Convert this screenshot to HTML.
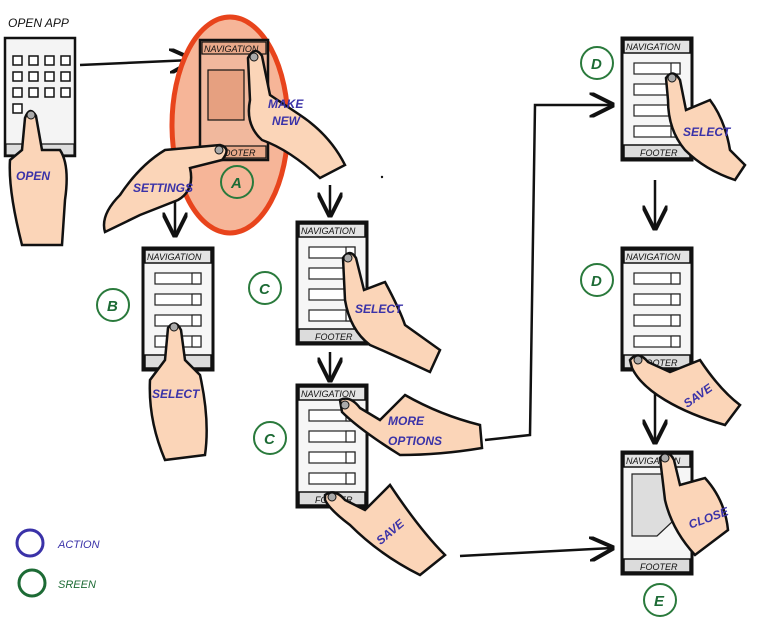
<!DOCTYPE html>
<html><head><meta charset="utf-8"><style>
html,body{margin:0;padding:0;background:#fff;}
svg{display:block}
text{font-family:"Liberation Sans",sans-serif;font-style:italic;}
.nav{font-size:9px;fill:#111}
.lab{font-size:12px;fill:#3a32a8;font-weight:bold}
.cl{font-size:15px;fill:#1d6b35;font-weight:bold}
</style></head><body>
<svg width="773" height="619" viewBox="0 0 773 619" xmlns="http://www.w3.org/2000/svg">
<defs>
<g id="frame">
 <rect x="0" y="0" width="70" height="122" fill="#f6f6f6" stroke="#111" stroke-width="3"/>
 <rect x="2" y="2" width="66" height="13" fill="#e4e4e4" stroke="#111" stroke-width="1.5"/>
 <rect x="2" y="107" width="66" height="13" fill="#dcdcdc" stroke="#111" stroke-width="1.5"/>
</g>
<g id="rows">
 <g fill="#fff" stroke="#222" stroke-width="1.2">
  <rect x="12" y="25" width="46" height="11"/><rect x="49" y="25" width="9" height="11"/>
  <rect x="12" y="46" width="46" height="11"/><rect x="49" y="46" width="9" height="11"/>
  <rect x="12" y="67" width="46" height="11"/><rect x="49" y="67" width="9" height="11"/>
  <rect x="12" y="88" width="46" height="11"/><rect x="49" y="88" width="9" height="11"/>
 </g>
</g>
<marker id="ah" viewBox="0 0 10 10" refX="9" refY="5" markerWidth="10" markerHeight="10" orient="auto"><path d="M0,0 L10,5 L0,10" fill="none" stroke="#111" stroke-width="1.6"/></marker>
</defs>

<!-- arrows -->
<g stroke="#111" stroke-width="2.5" fill="none">
 <path d="M80,65 L192,60" marker-end="url(#ah)"/>
 <path d="M175,200 L175,235" marker-end="url(#ah)"/>
 <path d="M330,185 L330,215" marker-end="url(#ah)"/>
 <path d="M330,352 L330,380" marker-end="url(#ah)"/>
 <path d="M485,440 L530,435 L535,105 L612,105" marker-end="url(#ah)"/>
 <path d="M460,556 L612,548" marker-end="url(#ah)"/>
 <path d="M655,180 L655,228" marker-end="url(#ah)"/>
 <path d="M655,390 L655,442" marker-end="url(#ah)"/>
</g>

<!-- phone 1 open app -->
<text x="8" y="27" style="font-size:12px;fill:#111">OPEN APP</text>
<g transform="translate(5,38)">
 <rect x="0" y="0" width="70" height="118" fill="#f4f4f4" stroke="#111" stroke-width="2.5"/>
 <g fill="#fff" stroke="#111" stroke-width="1.5">
  <rect x="8" y="18" width="9" height="9"/><rect x="24" y="18" width="9" height="9"/><rect x="40" y="18" width="9" height="9"/><rect x="56" y="18" width="9" height="9"/>
  <rect x="8" y="34" width="9" height="9"/><rect x="24" y="34" width="9" height="9"/><rect x="40" y="34" width="9" height="9"/><rect x="56" y="34" width="9" height="9"/>
  <rect x="8" y="50" width="9" height="9"/><rect x="24" y="50" width="9" height="9"/><rect x="40" y="50" width="9" height="9"/><rect x="56" y="50" width="9" height="9"/>
  <rect x="8" y="66" width="9" height="9"/>
 </g>
 <rect x="1" y="106" width="68" height="11" fill="#ddd" stroke="#111" stroke-width="1.2"/>
</g>
<path d="M25,118 Q30,105 36,116 L42,150 L60,150 Q70,165 65,200 L62,245 L22,245 Q8,190 10,160 L22,150 Z" fill="#fbd5b8" stroke="#111" stroke-width="2.5"/>
<circle cx="31" cy="115" r="4" fill="#aaa" stroke="#111"/>
<text x="16" y="180" class="lab">OPEN</text>

<!-- red ellipse A -->
<ellipse cx="230" cy="125" rx="58" ry="108" fill="#f6b598" stroke="#e8441c" stroke-width="5"/>
<g transform="translate(200,40)">
 <rect x="0" y="0" width="68" height="120" fill="#f1b89d" stroke="#111" stroke-width="2.5"/>
 <rect x="2" y="2" width="64" height="12" fill="#e9a98a" stroke="#111" stroke-width="1.2"/>
 <rect x="8" y="30" width="36" height="50" fill="#e6a080" stroke="#111" stroke-width="1.2"/>
 <rect x="2" y="106" width="64" height="12" fill="#e9a98a" stroke="#111" stroke-width="1.2"/>
 <text x="4" y="12" class="nav">NAVIGATION</text>
 <text x="18" y="116" class="nav">FOOTER</text>
</g>
<path d="M248,58 Q255,45 262,56 L270,95 L300,115 Q330,135 345,165 L320,178 Q290,150 262,140 Q245,125 250,100 Z" fill="#fbd5b8" stroke="#111" stroke-width="2.5"/>
<circle cx="254" cy="57" r="4" fill="#aaa" stroke="#111"/>
<text x="268" y="108" class="lab">MAKE</text><text x="272" y="125" class="lab">NEW</text>
<path d="M220,145 Q232,148 222,160 L190,168 Q195,190 178,200 L140,215 L105,232 Q100,215 120,195 Q140,165 165,150 Z" fill="#fbd5b8" stroke="#111" stroke-width="2.5"/>
<circle cx="219" cy="150" r="4" fill="#aaa" stroke="#111"/>
<text x="133" y="192" class="lab">SETTINGS</text>
<circle cx="237" cy="182" r="16" fill="none" stroke="#2a7a3c" stroke-width="2"/><text x="231" y="188" class="cl">A</text>

<!-- phone B -->
<g transform="translate(143,248)"><use href="#frame"/><use href="#rows"/>
 <text x="4" y="12" class="nav">NAVIGATION</text></g>
<path d="M168,328 Q175,318 181,330 L185,360 L200,375 Q210,420 205,455 L165,460 Q148,420 150,380 L165,360 Z" fill="#fbd5b8" stroke="#111" stroke-width="2.5"/>
<circle cx="174" cy="327" r="4" fill="#aaa" stroke="#111"/>
<text x="152" y="398" class="lab">SELECT</text>
<circle cx="113" cy="305" r="16" fill="none" stroke="#2a7a3c" stroke-width="2"/><text x="107" y="311" class="cl">B</text>

<!-- phone C1 -->
<g transform="translate(297,222)"><use href="#frame"/><use href="#rows"/>
 <text x="4" y="12" class="nav">NAVIGATION</text><text x="18" y="118" class="nav">FOOTER</text></g>
<path d="M343,258 Q350,248 356,258 L364,290 L385,282 Q400,310 405,325 L440,350 L430,372 Q400,358 370,345 Q350,330 345,300 Z" fill="#fbd5b8" stroke="#111" stroke-width="2.5"/>
<circle cx="348" cy="258" r="4" fill="#aaa" stroke="#111"/>
<text x="355" y="313" class="lab">SELECT</text>
<circle cx="265" cy="288" r="16" fill="none" stroke="#2a7a3c" stroke-width="2"/><text x="259" y="294" class="cl">C</text>

<!-- phone C2 -->
<g transform="translate(297,385)"><use href="#frame"/><use href="#rows"/>
 <text x="4" y="12" class="nav">NAVIGATION</text><text x="18" y="118" class="nav">FOOTER</text></g>
<path d="M340,400 Q350,395 360,408 L380,420 L405,395 Q440,415 480,425 L482,448 Q440,455 400,455 Q360,430 342,412 Z" fill="#fbd5b8" stroke="#111" stroke-width="2.5"/>
<circle cx="345" cy="405" r="4" fill="#aaa" stroke="#111"/>
<text x="388" y="425" class="lab">MORE</text><text x="388" y="445" class="lab">OPTIONS</text>
<path d="M325,495 Q335,488 345,500 L365,510 L390,485 Q420,530 445,555 L420,575 Q380,555 350,525 Q330,510 325,500 Z" fill="#fbd5b8" stroke="#111" stroke-width="2.5"/>
<circle cx="332" cy="497" r="4" fill="#aaa" stroke="#111"/>
<text x="375" y="540" class="lab" transform="rotate(-40 385 535)">SAVE</text>
<circle cx="270" cy="438" r="16" fill="none" stroke="#2a7a3c" stroke-width="2"/><text x="264" y="444" class="cl">C</text>

<!-- phone D1 -->
<g transform="translate(622,38)"><use href="#frame"/><use href="#rows"/>
 <text x="4" y="12" class="nav">NAVIGATION</text><text x="18" y="118" class="nav">FOOTER</text></g>
<path d="M666,78 Q673,68 680,80 L686,110 L710,100 Q725,120 730,150 L745,165 L735,180 Q705,170 685,150 Q668,130 668,100 Z" fill="#fbd5b8" stroke="#111" stroke-width="2.5"/>
<circle cx="672" cy="78" r="4" fill="#aaa" stroke="#111"/>
<text x="683" y="136" class="lab">SELECT</text>
<circle cx="597" cy="63" r="16" fill="none" stroke="#2a7a3c" stroke-width="2"/><text x="591" y="69" class="cl">D</text>

<!-- phone D2 -->
<g transform="translate(622,248)"><use href="#frame"/><use href="#rows"/>
 <text x="4" y="12" class="nav">NAVIGATION</text><text x="18" y="118" class="nav">FOOTER</text></g>
<path d="M630,360 Q638,350 648,362 L670,372 L700,360 Q720,390 740,405 L725,425 Q690,415 665,400 Q640,385 632,368 Z" fill="#fbd5b8" stroke="#111" stroke-width="2.5"/>
<circle cx="638" cy="360" r="4" fill="#aaa" stroke="#111"/>
<text x="683" y="405" class="lab" transform="rotate(-35 690 400)">SAVE</text>
<circle cx="597" cy="280" r="16" fill="none" stroke="#2a7a3c" stroke-width="2"/><text x="591" y="286" class="cl">D</text>

<!-- phone E -->
<g transform="translate(622,452)"><use href="#frame"/>
 <path d="M10,22 L50,22 L50,70 L35,84 L10,84 Z" fill="#ddd" stroke="#222" stroke-width="1.2"/>
 <text x="4" y="12" class="nav">NAVIGATION</text><text x="18" y="118" class="nav">FOOTER</text></g>
<path d="M660,458 Q668,448 674,460 L680,485 L705,478 Q725,500 728,530 L695,555 Q672,530 665,500 Z" fill="#fbd5b8" stroke="#111" stroke-width="2.5"/>
<circle cx="665" cy="458" r="4" fill="#aaa" stroke="#111"/>
<text x="688" y="525" class="lab" transform="rotate(-20 700 520)">CLOSE</text>
<circle cx="660" cy="600" r="16" fill="none" stroke="#2a7a3c" stroke-width="2"/><text x="654" y="606" class="cl">E</text>

<circle cx="382" cy="177" r="1.2" fill="#111"/>

<!-- legend -->
<circle cx="30" cy="543" r="13" fill="none" stroke="#3a32a8" stroke-width="3"/>
<text x="58" y="548" style="font-size:11px;fill:#3a32a8">ACTION</text>
<circle cx="32" cy="583" r="13" fill="none" stroke="#1d6b35" stroke-width="3"/>
<text x="58" y="588" style="font-size:11px;fill:#1d6b35">SREEN</text>
</svg>
</body></html>
